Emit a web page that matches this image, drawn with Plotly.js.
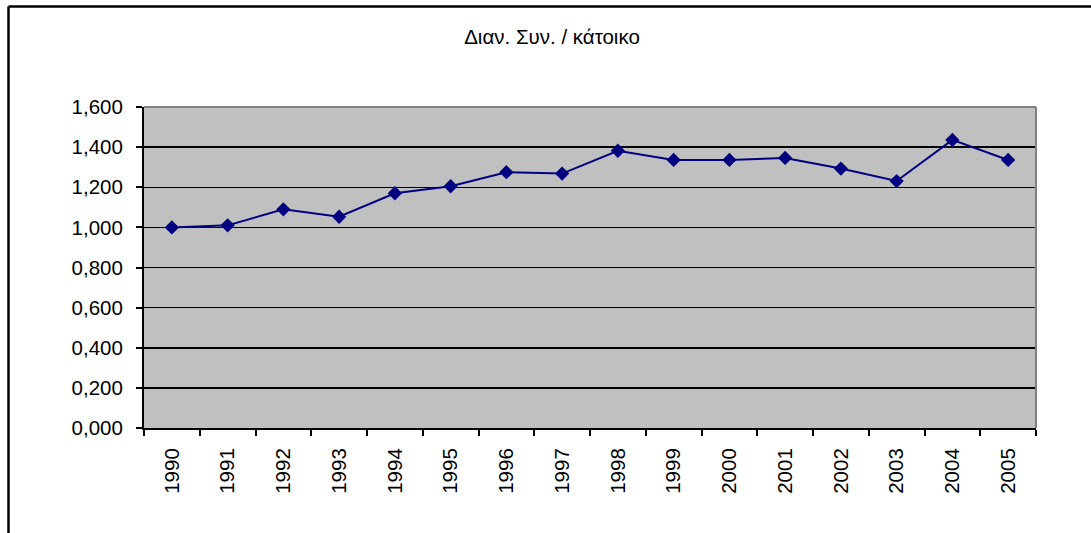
<!DOCTYPE html>
<html>
<head>
<meta charset="utf-8">
<script src="https://cdn.plot.ly/plotly-3.0.1.min.js"></script>
<style>html,body{margin:0;padding:0;background:#fff;}</style>
</head>
<body>
<div id="chart" style="width:1091px;height:533px;"></div>
<script>
const years = ['1990','1991','1992','1993','1994','1995','1996','1997','1998','1999','2000','2001','2002','2003','2004','2005'];
const values = [1.000, 1.010, 1.090, 1.053, 1.170, 1.205, 1.275, 1.268, 1.382, 1.336, 1.336, 1.346, 1.293, 1.231, 1.436, 1.336];
const yTicks = [0, 0.2, 0.4, 0.6, 0.8, 1.0, 1.2, 1.4, 1.6];
const titleText = 'Διαν. Συν. / κάτοικο';

const font = {family: 'Liberation Sans, Arial, sans-serif', size: 20.5, color: '#000'};

const trace = {
  x: years,
  y: values,
  type: 'scatter',
  mode: 'lines+markers',
  line: {color: '#000080', width: 2},
  marker: {symbol: 'diamond', size: 11, color: '#000080'},
  hoverinfo: 'x+y'
};

const layout = {
  width: 1091,
  height: 533,
  margin: {l: 144, r: 55, t: 107, b: 105},
  paper_bgcolor: '#ffffff',
  plot_bgcolor: '#c0c0c0',
  separators: ',.',
  showlegend: false,
  font: font,
  title: {
    text: titleText,
    font: font,
    x: 552/1091, xref: 'container', xanchor: 'center',
    y: 1 - 37/533, yref: 'container', yanchor: 'middle'
  },
  xaxis: {
    type: 'category',
    tickson: 'boundaries',
    ticks: 'outside', ticklen: 6, tickwidth: 2, tickcolor: '#000',
    tickangle: -90,
    ticklabelstandoff: 10,
    showline: true, linecolor: '#000', linewidth: 2,
    showgrid: false, zeroline: false,
    tickfont: font,
    range: [-0.5, years.length - 0.5]
  },
  yaxis: {
    range: [0, 1.6],
    tickvals: yTicks,
    tickformat: '.3f',
    ticks: 'outside', ticklen: 6, tickwidth: 2, tickcolor: '#000',
    ticklabelstandoff: 9,
    showline: true, linecolor: '#000', linewidth: 2,
    showgrid: true, gridcolor: '#000', gridwidth: 1.5,
    zeroline: false,
    tickfont: font
  },
  shapes: [
    {type: 'line', xref: 'paper', yref: 'paper', x0: 0, x1: 1, y0: 1, y1: 1, line: {color: '#808080', width: 2}, layer: 'above'},
    {type: 'line', xref: 'paper', yref: 'paper', x0: 1, x1: 1, y0: 0, y1: 1, line: {color: '#808080', width: 2}, layer: 'above'},
    {type: 'line', xref: 'paper', yref: 'paper', x0: (8.5-144)/892, x1: 1.2, y0: 1 + (107-6.5)/321, y1: 1 + (107-6.5)/321, line: {color: '#000', width: 2.5}},
    {type: 'line', xref: 'paper', yref: 'paper', x0: (8.5-144)/892, x1: (8.5-144)/892, y0: 1 + (107-6.5)/321, y1: -0.5, line: {color: '#000', width: 2.5}}
  ]
};

Plotly.newPlot('chart', [trace], layout, {displayModeBar: false, staticPlot: true});
</script>
</body>
</html>
